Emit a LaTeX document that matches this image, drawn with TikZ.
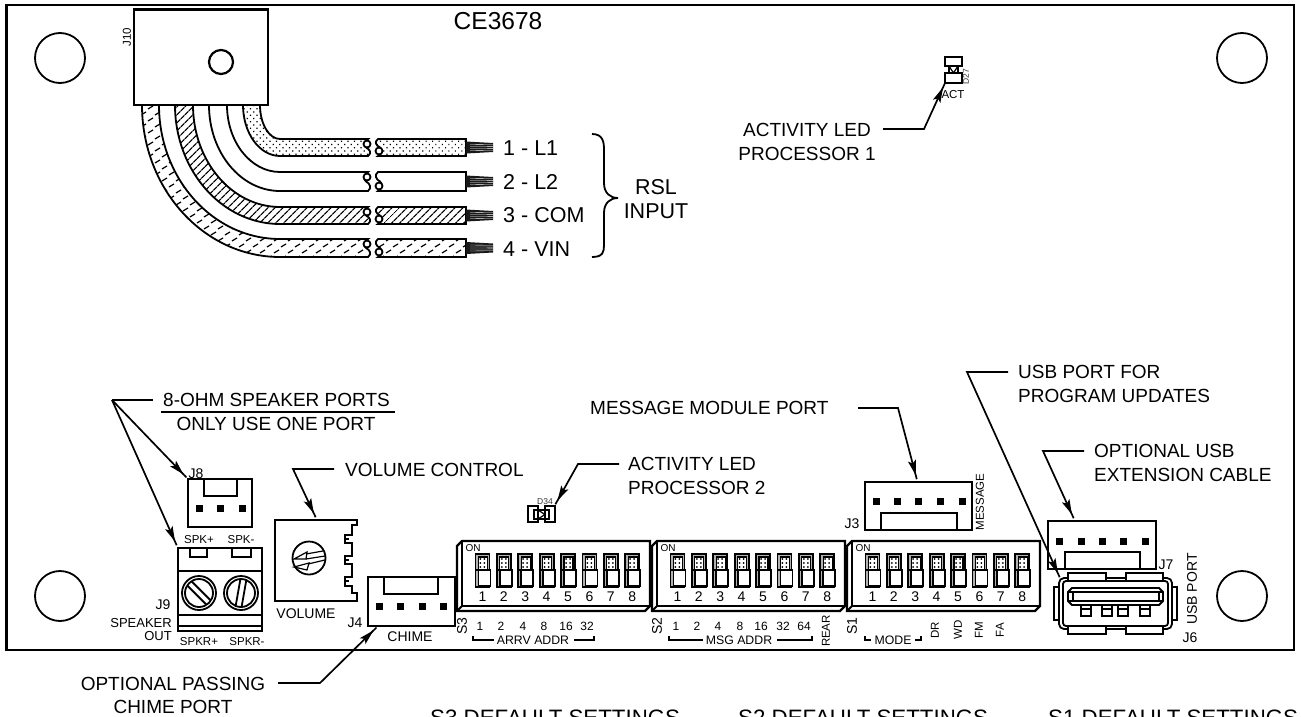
\documentclass[tikz,border=0pt]{standalone}
\usepackage{fontspec}
\setmainfont{Liberation Sans}
\usetikzlibrary{arrows.meta,patterns,patterns.meta}

\pgfdeclarepatternformonly{vinhatch}{\pgfqpoint{-1pt}{-1pt}}{\pgfqpoint{15pt}{13pt}}{\pgfqpoint{14pt}{12pt}}{
  \pgfsetlinewidth{1.2pt}
  \pgfpathmoveto{\pgfqpoint{1pt}{2pt}}\pgfpathlineto{\pgfqpoint{6pt}{5pt}}
  \pgfpathmoveto{\pgfqpoint{8pt}{8pt}}\pgfpathlineto{\pgfqpoint{13pt}{11pt}}
  \pgfusepath{stroke}
}

\tikzset{
  board/.style={line width=2.2pt},
  part/.style={line width=1.8pt},
  thin part/.style={line width=1.2pt},
  leader/.style={line width=1.7pt,-{Stealth[length=15pt,width=8pt,inset=3pt]Rectangle[length=5pt,width=1.7pt]}},
  big/.style={inner sep=0pt,font=\fontsize{19}{23.5}\selectfont},
  wirelbl/.style={inner sep=0pt,font=\fontsize{21.5}{24}\selectfont},
  mid/.style={inner sep=0pt,font=\fontsize{14}{15}\selectfont},
  small/.style={inner sep=0pt,font=\fontsize{11.5}{13}\selectfont},
  tiny/.style={inner sep=0pt,text=black!80,font=\fontsize{8.5}{9}\selectfont},
  wdots/.style={pattern={Dots[radius=.85pt,distance=4.6pt,angle=45]}},
  whatch/.style={pattern={Lines[distance=5.4pt,angle=45,line width=1.3pt]}},
  wdash/.style={pattern=vinhatch},
  wplain/.style={fill=white}
}

% left edge, right edge, top, bottom of the wire, then its filling
\newcommand{\wirerun}[5]{
  \pgfmathsetmacro{\ox}{0.552*(280-#1)}
  \pgfmathsetmacro{\oy}{0.552*(#4-105)}
  \pgfmathsetmacro{\ix}{0.552*(280-#2)}
  \pgfmathsetmacro{\iy}{0.552*(#3-105)}
  \pgfmathsetmacro{\ym}{(#3+#4)/2}
  \draw[part,#5] (#1,105) .. controls (#1,105+\oy) and (280-\ox,#4) .. (280,#4) -- (368,#4)
    .. controls (372,#4-3) and (370,\ym+2) .. (366,\ym) .. controls (363,\ym-2) and (364,#3+2) .. (368,#3)
    -- (280,#3) .. controls (280-\ix,#3) and (#2,105+\iy) .. (#2,105);
  \draw[part,fill=white] (367,#3+5) circle [radius=3.5];
  \draw[part,#5] (378,#3) .. controls (374,#3+3) and (376,\ym-2) .. (380,\ym) .. controls (383,\ym+2) and (382,#4-2) .. (378,#4)
    -- (466,#4) -- (466,#3) -- cycle;
  \draw[part,fill=white] (379,#4-5) circle [radius=3.5];
  \fill[black!90] (466,\ym-6) -- (493,\ym-4.5) -- (493,\ym+4.5) -- (466,\ym+6) -- cycle;
  \foreach \s in {-3,-1,1,3}{
    \draw[white,line width=.35pt] (470,\ym+\s) -- (493,\ym+\s*.9);
  }
}

% one switch of a dip block
\newcommand{\dipsw}[2]{
  \fill[black!30] (#1-6,554) rectangle (#1+8,570);
  \fill[black!30] (#1-6,570) rectangle (#1-3,587);
  \draw[thin part,fill=white] (#1-3,557) rectangle (#1+6,570);
  \draw[part] (#1-6,554) rectangle (#1+8,570);
  \draw[part] (#1-6,570) -- (#1-6,587) -- (#1+9,587);
  \draw[part,fill=white] (#1-3,570) rectangle (#1+9,586);
  \foreach \dy in {559,563,567}{
    \fill (#1-1,\dy) circle [radius=1];
    \fill (#1+3,\dy) circle [radius=1];
  }
  \node[mid] at (#1+1,597) {#2};
}

% dip block with its eight switches
\newcommand{\dipblock}[1]{
  \begin{scope}[shift={(#1,0)}]
    \draw[board,fill=white] (5,541) -- (193,541) -- (193,606) -- (188,611) -- (0,611) -- (0,546) -- cycle;
    \draw[part] (5,541) -- (5,606) -- (193,606) (0,611) -- (5,606);
    \node[small,font=\fontsize{10}{11}\selectfont] at (16,548) {ON};
    \foreach \n in {1,...,8}{
      \pgfmathsetmacro{\cx}{3+\n*21.4}
      \dipsw{\cx}{\n}
    }
  \end{scope}
}

% connector with a row of pins
\newcommand{\pinrow}[2]{
  \foreach \px in {#1}{
    \fill (\px-3.5,#2-3.5) rectangle (\px+3.5,#2+3.5);
  }
}

\newcommand{\screw}[3]{
  \draw[part] (#1,#2) circle [radius=17] (#1,#2) circle [radius=14];
  \draw[part,shift={(#1,#2)},rotate=#3] (-13,-3) -- (13,-3) (-13,3) -- (13,3);
}

\begin{document}
\begin{tikzpicture}[x=1pt,y=-1pt]
  \useasboundingbox (0,0) rectangle (1301,717);
  \clip (0,0) rectangle (1301,717);
  \draw[board] (6.5,5) rectangle (1294,650);

  \foreach \hx in {60,1242}{
    \foreach \hy in {58,596}{
      \draw[part] (\hx,\hy) circle [radius=25];
    }
  }

  \node[inner sep=0pt,font=\fontsize{24.5}{26}\selectfont] (title) at (498,21) {CE3678};

  % wires out of J10
  \wirerun{243}{260}{139}{156}{wdots}
  \wirerun{209}{227}{172}{191}{wplain}
  \wirerun{175}{193}{207}{224}{whatch}
  \wirerun{142}{159}{239}{257}{wdash}
  \draw[board,fill=white] (134,9.5) rectangle (268,105);
  \draw[board] (221,62) circle [radius=12];
  \node[small,rotate=90] (jten) at (127,37) {J10};

  \node[wirelbl,anchor=west] (wone) at (503,148) {1 - L1};
  \node[wirelbl,anchor=west] (wtwo) at (503,182) {2 - L2};
  \node[wirelbl,anchor=west] (wthree) at (503,215) {3 - COM};
  \node[wirelbl,anchor=west] (wfour) at (503,249) {4 - VIN};
  \draw[part] (592,134) .. controls (603,134) and (604,142) .. (604,150) -- (604,183)
    .. controls (604,193) and (610,198) .. (618,198) .. controls (610,198) and (604,203) .. (604,213)
    -- (604,245) .. controls (604,252) and (603,257) .. (592,257);
  \node[wirelbl,align=center] (rsl) at (656,199) {RSL\\INPUT};

  % activity leds
  \draw[part] (945,57) rectangle (962,66) (945,73) rectangle (962,83) (949,66) rectangle (958,73);
  \draw[thin part] (949,66) -- (958,66) -- (953.5,73) -- cycle;
  \node[tiny,rotate=90] (dtwo) at (966,77) {D27};
  \node[small] (act) at (953,95) {ACT};
  \node[big,align=center] (ledone) at (807,142) {ACTIVITY LED\\PROCESSOR 1};
  \coordinate (ledonebend) at (924,129);
  \coordinate (ledonetip) at (945,83);
  \draw[leader] (883,129) -- (ledonebend) -- (ledonetip);

  \draw[part] (528,506) rectangle (538,522) (545,506) rectangle (555,522) (534,510) rectangle (549,519);
  \draw[thin part] (538,510) -- (538,519) -- (545,514.5) -- cycle;
  \node[tiny] (dthree) at (545,502) {D34};
  \node[big,align=left,anchor=west] (ledtwo) at (628,476) {ACTIVITY LED\\PROCESSOR 2};
  \coordinate (ledtwobend) at (578,464);
  \coordinate (ledtwotip) at (555,505);
  \draw[leader] (619,464) -- (ledtwobend) -- (ledtwotip);

  % speaker ports
  \node[big,anchor=west] (spkone) at (163,400) {8-OHM SPEAKER PORTS};
  \draw[line width=1.5pt] (161,412) -- (395,412);
  \node[big] (spktwo) at (276,424) {ONLY USE ONE PORT};
  \coordinate (spkbend) at (112,400);
  \coordinate (jeighttip) at (187,478);
  \coordinate (jninetip) at (177,546);
  \draw[line width=1.7pt] (153,400) -- (spkbend);
  \draw[leader] (spkbend) -- (jeighttip);
  \draw[leader] (spkbend) -- (jninetip);

  \draw[part] (188,479) rectangle (252,527);
  \draw[part] (204,479) rectangle (237,496);
  \pinrow{199,220,242}{508}
  \node[mid] (jeight) at (196,474) {J8};
  \node[small] (spkp) at (199,540) {SPK+};
  \node[small] (spkm) at (241,540) {SPK-};

  \draw[part] (178,548) rectangle (262,631);
  \draw[part] (178,571) -- (262,571) (178,615) -- (262,615) (178,626) -- (262,626);
  \draw[part] (190,548) -- (190,557) -- (207,557) -- (207,548) (232,548) -- (232,557) -- (251,557) -- (251,548);
  \screw{199}{593}{-45}
  \screw{241}{593}{80}
  \node[mid] (jnine) at (163,605) {J9};
  \node[inner sep=0pt,align=right,anchor=east,font=\fontsize{13}{13.5}\selectfont] (spkout) at (172,629.5) {SPEAKER\\OUT};
  \node[small] (spkrp) at (199,642) {SPKR+};
  \node[small] (spkrm) at (247,642) {SPKR-};

  % volume pot
  \draw[part] (357,520) -- (275,520) -- (275,601) -- (357,601) -- (357,593) -- (352,593) -- (352,586) -- (345,586) -- (345,577)
    -- (352,577) -- (352,564) -- (345,564) -- (345,556) -- (352,556) -- (352,543) -- (345,543) -- (345,535) -- (352,535)
    -- (352,525) -- (357,525) -- cycle;
  \draw[thin part] (345,539) -- (349,539) (345,560) -- (349,560) (345,581) -- (349,581);
  \draw[part] (309,558) circle [radius=16.5];
  \draw[thin part] (306,554) -- (323,551) (306,559) -- (325,556) (308,564) -- (325,560);
  \draw[thin part] (294,559) -- (307,552) -- (306,559) -- cycle (294,567) -- (309,563) -- (307,570) -- cycle;
  \node[mid] (volume) at (306,614) {VOLUME};
  \node[big,anchor=west] (vollbl) at (345,470) {VOLUME CONTROL};
  \coordinate (volbend) at (293,469);
  \coordinate (voltip) at (316,518);
  \draw[leader] (334,469) -- (volbend) -- (voltip);

  % chime
  \draw[part] (368,577) rectangle (455,626);
  \draw[part] (384,577) rectangle (438,594);
  \pinrow{379,400,422,443}{606}
  \node[mid] (jfour) at (355,623) {J4};
  \node[mid] (chime) at (410,637) {CHIME};
  \node[big,align=center] (chimelbl) at (173,695.5) {OPTIONAL PASSING\\CHIME PORT};
  \coordinate (chimebend) at (320,683);
  \coordinate (chimetip) at (377,627);
  \draw[leader] (278,683) -- (chimebend) -- (chimetip);

  % dip switches
  \dipblock{457}
  \dipblock{652}
  \dipblock{847}

  \node[mid,rotate=90] (sthree) at (462,626) {S3};
  \foreach \ax/\av in {480/1,501/2,523/4,544/8,566/16,587/32}{
    \node[inner sep=0pt,font=\fontsize{12}{13}\selectfont] at (\ax,626) {\av};
  }
  \draw[thin part] (473,636) -- (473,640) -- (494,640) (574,640) -- (594,640) -- (594,636);
  \node[inner sep=0pt,font=\fontsize{12.3}{13}\selectfont] (arrv) at (533,640) {ARRV ADDR};

  \node[mid,rotate=90] (stwo) at (657,626) {S2};
  \foreach \ax/\av in {676/1,697/2,718/4,740/8,761/16,783/32,804/64}{
    \node[inner sep=0pt,font=\fontsize{12}{13}\selectfont] at (\ax,626) {\av};
  }
  \draw[thin part] (669,636) -- (669,640) -- (703,640) (777,640) -- (812,640) -- (812,636);
  \node[inner sep=0pt,font=\fontsize{12.3}{13}\selectfont] (msg) at (739,640) {MSG ADDR};
  \node[small,rotate=90] (rear) at (826,631) {REAR};

  \node[mid,rotate=90] (sone) at (852,626) {S1};
  \draw[thin part] (865,636) -- (865,640) -- (871,640) (915,640) -- (921,640) -- (921,636);
  \node[inner sep=0pt,font=\fontsize{12.3}{13}\selectfont] (mode) at (893,640) {MODE};
  \foreach \ax/\av in {935/DR,958/WD,979/FM,1000/FA}{
    \node[small,rotate=90] at (\ax,630) {\av};
  }

  % message module
  \draw[part] (865,482) rectangle (972,530);
  \draw[part] (881,530) rectangle (957,513);
  \pinrow{876,897,918,940,962}{501}
  \node[mid] (jthree) at (852,524) {J3};
  \node[small,rotate=90] (message) at (980,502) {MESSAGE};
  \node[big,anchor=west] (msglbl) at (590,408) {MESSAGE MODULE PORT};
  \coordinate (msgbend) at (898,408);
  \coordinate (msgtip) at (917,480);
  \draw[leader] (858,408) -- (msgbend) -- (msgtip);

  % usb
  \draw[part] (1048,521) rectangle (1156,569);
  \draw[part] (1065,569) rectangle (1140,552);
  \pinrow{1059,1081,1102,1123,1145}{541}
  \node[mid] (jseven) at (1166,565) {J7};
  \draw[part,fill=white] (1054,587) rectangle (1177,620);
  \draw[part,fill=white,rounded corners=5pt] (1059,578) rectangle (1172,629);
  \foreach \tx/\txe in {1068/1106,1126/1163}{
    \draw[part,fill=white] (\tx,581) rectangle (\txe,573);
    \draw[part,fill=white] (\tx,626) rectangle (\txe,634);
  }
  \draw[part,fill=white,rounded corners=3pt] (1063,581) rectangle (1168,626);
  \draw[part] (1068,592) -- (1072,588) -- (1159,588) -- (1163,592) -- (1163,601) -- (1159,605) -- (1072,605) -- (1068,601) -- cycle;
  \draw[part] (1073,592) rectangle (1159,601);
  \draw[thin part] (1068,592) -- (1073,592) (1163,592) -- (1159,592) (1068,601) -- (1073,601) (1163,601) -- (1159,601);
  \foreach \ux in {1086,1107,1123,1145}{
    \draw[part] (\ux-5,605) rectangle (\ux+5,616);
    \draw[thin part] (\ux-5,609) -- (\ux+5,609);
  }
  \node[mid,rotate=90] (usbport) at (1192,589) {USB PORT};
  \node[mid] (jsix) at (1190,638) {J6};
  \node[big,align=left,anchor=west] (usblbl) at (1018,384) {USB PORT FOR\\PROGRAM UPDATES};
  \coordinate (usbbend) at (967,372);
  \coordinate (usbtip) at (1060,578);
  \draw[leader] (1008,372) -- (usbbend) -- (usbtip);
  \node[big,align=left,anchor=west] (extlbl) at (1094,463) {OPTIONAL USB\\EXTENSION CABLE};
  \coordinate (extbend) at (1043,451);
  \coordinate (exttip) at (1074,519);
  \draw[leader] (1084,451) -- (extbend) -- (exttip);

  % default settings headings
  \node[anchor=base west,inner sep=0pt,font=\fontsize{22.3}{24}\selectfont] (sthreedef) at (430,725) {S3 DEFAULT SETTINGS};
  \node[anchor=base west,inner sep=0pt,font=\fontsize{22.3}{24}\selectfont] (stwodef) at (738,725) {S2 DEFAULT SETTINGS};
  \node[anchor=base west,inner sep=0pt,font=\fontsize{22.3}{24}\selectfont] (sonedef) at (1048,725) {S1 DEFAULT SETTINGS};
\end{tikzpicture}
\end{document}
